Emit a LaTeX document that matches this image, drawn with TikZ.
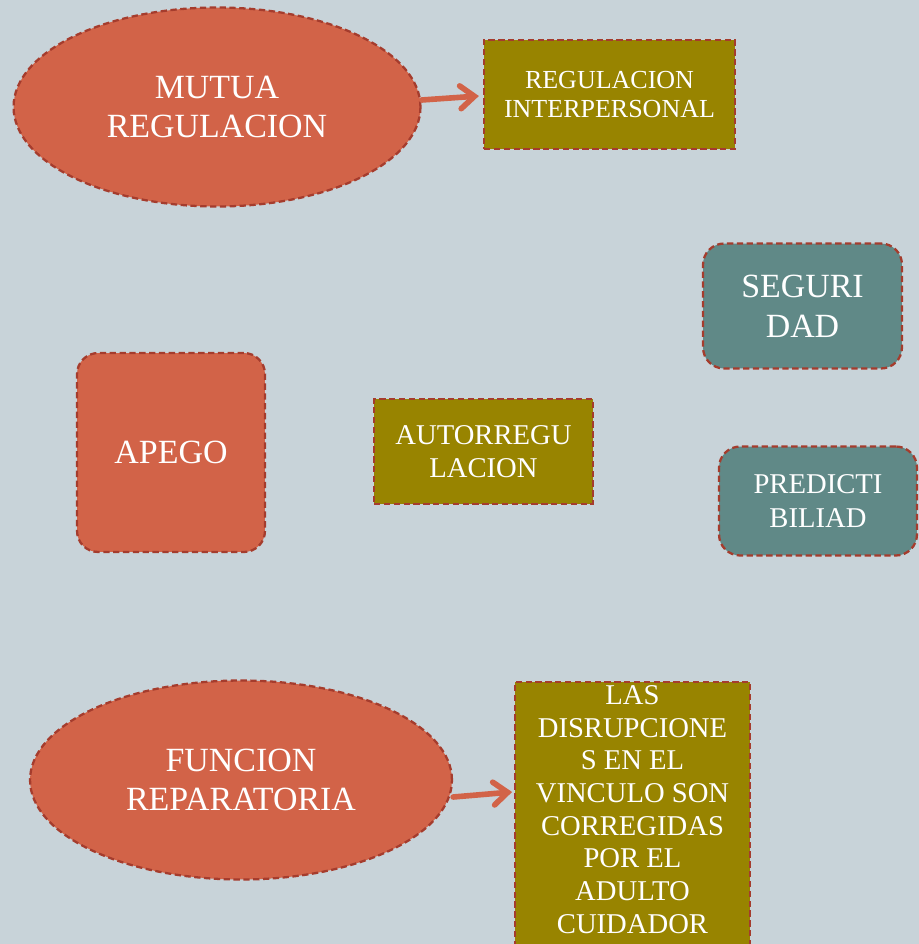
\documentclass[tikz,border=0pt]{standalone}
\usepackage{fontspec}
\setmainfont{Liberation Serif}
\usetikzlibrary{shapes.geometric,arrows.meta}

\definecolor{bgblue}{RGB}{200,211,217}
\definecolor{rust}{RGB}{210,99,72}
\definecolor{olive}{RGB}{152,132,0}
\definecolor{teal}{RGB}{96,137,135}
\definecolor{edge}{RGB}{165,60,45}

\tikzset{
  dashedge/.style={draw=edge,line width=1.3pt,dash pattern=on 3.6pt off 2pt},
  oval/.style={ellipse,dashedge,fill=rust,text=white,align=center,inner sep=0pt},
  roundbox/.style={rectangle,rounded corners=12pt,dashedge,text=white,align=center,inner sep=0pt},
  olivebox/.style={rectangle,dashedge,fill=olive,text=white,align=center,inner sep=0pt},
  bigtext/.style={font=\fontsize{19.3}{22.6}\selectfont},
  midtext/.style={font=\fontsize{16.3}{19.1}\selectfont},
  smalltext/.style={font=\fontsize{14.8}{17}\selectfont},
  link/.style={-{Straight Barb[length=8pt,width=13pt,line cap=round]},line width=3.2pt,draw=rust,line cap=round}
}

\begin{document}
\begin{tikzpicture}[x=0.02cm,y=-0.02cm]

%BACKGROUND
\fill[bgblue] (0,0) rectangle (919,944);
\useasboundingbox (0,0) rectangle (919,944);
\clip (0,0) rectangle (919,944);
%BACKGROUND

\node[oval,bigtext,minimum width=8.14cm,minimum height=3.98cm](mutua) at (217,107) {MUTUA\\REGULACION};
\node[olivebox,smalltext,minimum width=5.02cm,minimum height=2.18cm](interp) at (609.5,94.5) {REGULACION\\INTERPERSONAL};

\node[roundbox,bigtext,fill=teal,minimum width=3.98cm,minimum height=2.5cm](seguri) at (802.5,306) {SEGURI\\DAD};
\node[roundbox,bigtext,fill=rust,minimum width=3.76cm,minimum height=3.98cm](apego) at (171,452.5) {APEGO};
\node[olivebox,midtext,minimum width=4.38cm,minimum height=2.1cm](auto) at (483.5,451.5) {AUTORREGU\\LACION};
\node[roundbox,midtext,fill=teal,minimum width=3.96cm,minimum height=2.18cm](predic) at (818,501) {PREDICTI\\BILIAD};

\node[oval,bigtext,minimum width=8.44cm,minimum height=3.98cm](funcion) at (241,780) {FUNCION\\REPARATORIA};
\node[olivebox,midtext,minimum width=4.7cm,minimum height=5.7cm,anchor=north](disrup) at (632.5,681) {};
\node[midtext,text=white,align=center,anchor=north,inner sep=0pt,font=\fontsize{16.3}{18.6}\selectfont](disruptext) at (632.5,685) {LAS\\DISRUPCIONE\\S EN EL\\VINCULO SON\\CORREGIDAS\\POR EL\\ADULTO\\CUIDADOR};

\draw[link] ([shift={(0,-7)}]mutua.east) -- ([shift={(-4,1.5)}]interp.west);
\draw[link] ([shift={(0,17)}]funcion.east) -- ([shift={(59,12)}]funcion.east);

\end{tikzpicture}
\end{document}
